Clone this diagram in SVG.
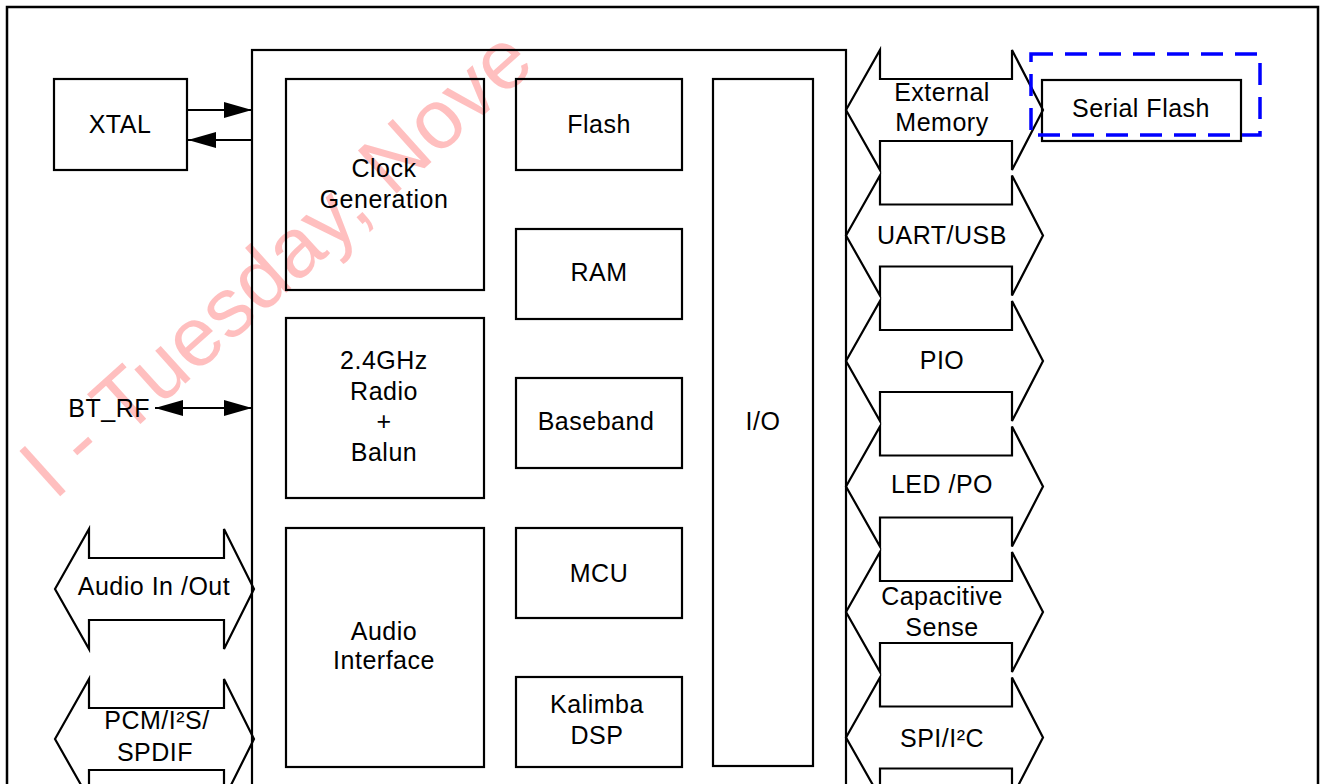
<svg xmlns="http://www.w3.org/2000/svg" width="1325" height="784" viewBox="0 0 1325 784">
<style>
.box{fill:none;stroke:#000;stroke-width:2.2}
.blk{fill:none;stroke:#000;stroke-width:2.2;stroke-linejoin:miter}
.t{font-family:"Liberation Sans",Arial,sans-serif;font-size:25px;fill:#000;text-anchor:middle;letter-spacing:0.5px}
.wm{font-family:"Liberation Sans",Arial,sans-serif;font-size:84px;fill:#ff8a8a;fill-opacity:0.55}
.ln{stroke:#000;stroke-width:2.2;fill:none}
</style>
<defs>
<marker id="ah" viewBox="0 0 28 16" refX="28" refY="8" markerWidth="28" markerHeight="16" markerUnits="userSpaceOnUse" orient="auto-start-reverse">
<path d="M0,0 L28,8 L0,16 Z" fill="#000"/>
</marker>
<path id="dblR" d="M846,0 L880,-60 L880,-31 L1012,-31 L1012,-60 L1043,0 L1012,60 L1012,31 L880,31 L880,60 Z"/>
<path id="dblL" d="M55,0 L89,-60 L89,-31 L224,-31 L224,-60 L254,0 L224,60 L224,31 L89,31 L89,60 Z"/>
<clipPath id="wmclip"><rect x="0" y="31" width="1325" height="753"/></clipPath>
</defs>
<rect width="1325" height="784" fill="#fff"/>
<g id="watermark" clip-path="url(#wmclip)">
<text class="wm" transform="translate(56,500) rotate(-42)">l - Tuesday, Nove</text>
</g>
<rect id="frame" x="7" y="7" width="1311" height="800" fill="none" stroke="#000" stroke-width="2.5"/>
<g id="chip"><rect class="box" x="252" y="50" width="594" height="760"/></g>
<g id="xtal"><rect class="box" x="54" y="79" width="133" height="91"/><text class="t" x="120" y="133">XTAL</text></g>
<g id="clockgen"><rect class="box" x="286" y="79" width="198" height="211"/><text class="t" x="384" y="177">Clock</text><text class="t" x="384" y="208">Generation</text></g>
<g id="radio"><rect class="box" x="286" y="318" width="198" height="180"/><text class="t" x="384" y="369">2.4GHz</text><text class="t" x="384" y="400">Radio</text><text class="t" x="384" y="430">+</text><text class="t" x="384" y="461">Balun</text></g>
<g id="audioif"><rect class="box" x="286" y="528" width="198" height="239"/><text class="t" x="384" y="640">Audio</text><text class="t" x="384" y="669">Interface</text></g>
<g id="flash"><rect class="box" x="516" y="79" width="166" height="91"/><text class="t" x="599" y="133">Flash</text></g>
<g id="ram"><rect class="box" x="516" y="229" width="166" height="90"/><text class="t" x="599" y="281">RAM</text></g>
<g id="baseband"><rect class="box" x="516" y="378" width="166" height="90"/><text class="t" x="596" y="430">Baseband</text></g>
<g id="mcu"><rect class="box" x="516" y="528" width="166" height="90"/><text class="t" x="599" y="582">MCU</text></g>
<g id="kalimba"><rect class="box" x="516" y="677" width="166" height="90"/><text class="t" x="597" y="713">Kalimba</text><text class="t" x="597" y="744">DSP</text></g>
<g id="io"><rect class="box" x="713" y="79" width="100" height="687"/><text class="t" x="763" y="430">I/O</text></g>
<g id="extmem"><use href="#dblR" class="blk" transform="translate(0,110)"/><text class="t" x="942" y="101">External</text><text class="t" x="942" y="131">Memory</text></g>
<g id="uart"><use href="#dblR" class="blk" transform="translate(0,235.5)"/><text class="t" x="942" y="244">UART/USB</text></g>
<g id="pio"><use href="#dblR" class="blk" transform="translate(0,361)"/><text class="t" x="942" y="369">PIO</text></g>
<g id="led"><use href="#dblR" class="blk" transform="translate(0,486.5)"/><text class="t" x="942" y="493">LED /PO</text></g>
<g id="capsense"><use href="#dblR" class="blk" transform="translate(0,612)"/><text class="t" x="942" y="605">Capacitive</text><text class="t" x="942" y="636">Sense</text></g>
<g id="spi"><use href="#dblR" class="blk" transform="translate(0,737.5)"/><text class="t" x="942" y="747">SPI/I²C</text></g>
<g id="audioio"><use href="#dblL" class="blk" transform="translate(0,589)"/><text class="t" x="154" y="595">Audio In /Out</text></g>
<g id="pcm"><use href="#dblL" class="blk" transform="translate(0,739)"/><text class="t" x="157" y="729">PCM/I²S/</text><text class="t" x="155" y="761">SPDIF</text></g>
<g id="serialflash"><rect class="box" x="1042" y="80" width="199" height="61"/><text class="t" x="1141" y="117">Serial Flash</text></g>
<g id="highlight"><rect x="1031" y="54" width="229" height="81" fill="none" stroke="#0000ff" stroke-width="3.5" stroke-dasharray="22 12"/></g>
<g id="btrf"><text class="t" x="150" y="417" style="text-anchor:end">BT_RF</text></g>
<g id="connectors">
<line class="ln" x1="187" y1="110" x2="252" y2="110" marker-end="url(#ah)"/>
<line class="ln" x1="252" y1="140" x2="188" y2="140" marker-end="url(#ah)"/>
<line class="ln" x1="155" y1="408" x2="252" y2="408" marker-start="url(#ah)" marker-end="url(#ah)"/>
</g>
</svg>
